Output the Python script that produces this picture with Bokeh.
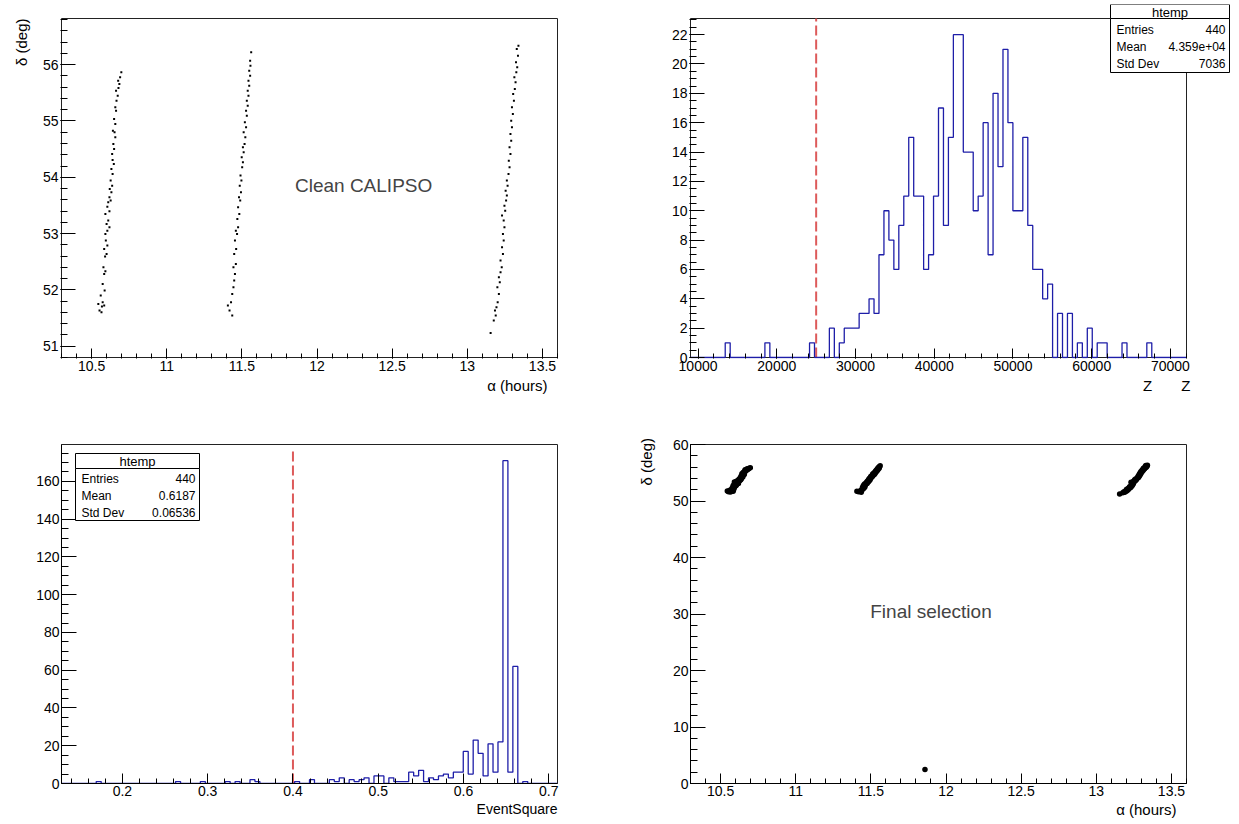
import numpy as np
from bokeh.plotting import figure
from bokeh.layouts import column, row
from bokeh.models import Range1d, Label, BoxAnnotation, FixedTicker, CustomJSTickFormatter, Title
from bokeh.embed import file_html
from bokeh.resources import INLINE

FONT = "Liberation Sans"

# ---------------- data (alpha in hours, delta in degrees) ----------------
ra_streak1 = [10.553, 10.566, 10.584, 10.574, 10.545, 10.569, 10.561, 10.587, 10.574, 10.584,
              10.592, 10.579, 10.590, 10.600, 10.584, 10.605, 10.595, 10.592, 10.605, 10.619,
              10.600, 10.611, 10.592, 10.619, 10.605, 10.611, 10.627, 10.619, 10.632, 10.621,
              10.637, 10.627, 10.640, 10.632, 10.648, 10.640, 10.637, 10.650, 10.645, 10.658,
              10.653, 10.642, 10.658, 10.650, 10.663, 10.658, 10.666, 10.674, 10.663, 10.679,
              10.685, 10.677, 10.690, 10.698]
dec_streak1 = [51.633, 51.604, 51.722, 51.781, 51.751, 51.704, 51.899, 51.988, 52.107, 52.284,
               52.331, 52.402, 52.592, 52.639, 52.728, 52.787, 52.876, 52.994, 53.053, 53.112,
               53.172, 53.231, 53.349, 53.396, 53.479, 53.556, 53.586, 53.645, 53.734, 53.793,
               53.852, 53.941, 54.059, 54.148, 54.237, 54.308, 54.414, 54.503, 54.592, 54.710,
               54.799, 54.828, 54.947, 55.036, 55.183, 55.243, 55.361, 55.450, 55.538, 55.586,
               55.657, 55.716, 55.775, 55.864]
ra_streak2 = [11.436, 11.418, 11.407, 11.428, 11.436, 11.444, 11.449, 11.454, 11.444, 11.460,
              11.449, 11.462, 11.454, 11.468, 11.460, 11.475, 11.470, 11.483, 11.475, 11.489,
              11.481, 11.494, 11.486, 11.497, 11.491, 11.502, 11.507, 11.499, 11.512, 11.507,
              11.518, 11.523, 11.512, 11.528, 11.520, 11.533, 11.528, 11.539, 11.533, 11.544,
              11.539, 11.549, 11.544, 11.555, 11.549, 11.557, 11.555, 11.562]
dec_streak2 = [51.544, 51.633, 51.722, 51.781, 51.929, 52.047, 52.166, 52.284, 52.402, 52.462,
               52.639, 52.728, 52.876, 52.994, 53.053, 53.112, 53.260, 53.349, 53.467, 53.586,
               53.645, 53.734, 53.852, 53.941, 54.030, 54.178, 54.266, 54.355, 54.444, 54.533,
               54.592, 54.710, 54.799, 54.888, 54.976, 55.095, 55.183, 55.272, 55.361, 55.450,
               55.538, 55.627, 55.716, 55.805, 55.893, 55.982, 56.071, 56.219]
ra_streak3 = [13.155, 13.176, 13.189, 13.184, 13.194, 13.202, 13.210, 13.200, 13.216, 13.210,
              13.221, 13.229, 13.221, 13.237, 13.231, 13.242, 13.237, 13.247, 13.242, 13.231,
              13.252, 13.247, 13.258, 13.263, 13.255, 13.268, 13.263, 13.274, 13.281, 13.276,
              13.287, 13.281, 13.292, 13.287, 13.297, 13.292, 13.303, 13.297, 13.310, 13.305,
              13.316, 13.321, 13.313, 13.326, 13.332, 13.324, 13.337, 13.329, 13.340]
dec_streak3 = [51.237, 51.456, 51.544, 51.633, 51.692, 51.781, 51.929, 52.047, 52.136, 52.225,
               52.314, 52.402, 52.521, 52.639, 52.757, 52.876, 52.994, 53.112, 53.231, 53.320,
               53.408, 53.497, 53.586, 53.675, 53.763, 53.852, 53.941, 54.059, 54.178, 54.296,
               54.414, 54.533, 54.651, 54.769, 54.888, 55.006, 55.124, 55.243, 55.361, 55.479,
               55.568, 55.686, 55.775, 55.864, 55.953, 56.041, 56.160, 56.278, 56.337]
outlier_ra = [11.86]
outlier_dec = [2.5]

# histogram of Z (100 bins)
z_bin_low = 9040.0
z_bin_width = 630.0
z_counts = [0, 0, 0, 0, 0, 0, 0, 1, 0, 0,
            0, 0, 0, 0, 0, 1, 0, 0, 0, 0,
            0, 0, 0, 0, 1, 0, 0, 0, 2, 0,
            1, 2, 2, 2, 3, 3, 4, 3, 7, 10,
            8, 6, 9, 11, 15, 11, 11, 6, 7, 11,
            17, 9, 15, 22, 22, 14, 14, 10, 11, 16,
            7, 18, 13, 21, 16, 10, 10, 15, 9, 6,
            6, 4, 5, 0, 3, 0, 3, 0, 1, 0,
            2, 0, 1, 1, 0, 0, 0, 1, 0, 0,
            0, 0, 1, 0, 0, 0, 0, 0, 0, 0]
z_cut = 25000.0
z_ymax = 23.1

# histogram of EventSquare (100 bins)
es_bin_low = 0.1286
es_bin_width = 0.005816
es_counts = [0, 0, 0, 0, 0, 0, 0, 1, 0, 0,
             0, 0, 0, 0, 0, 0, 0, 0, 0, 0,
             0, 0, 0, 1, 0, 0, 0, 0, 1, 0,
             0, 0, 0, 1, 0, 1, 0, 0, 2, 1,
             0, 0, 0, 0, 0, 0, 0, 1, 0, 0,
             2, 0, 0, 0, 2, 1, 3, 0, 2, 1,
             2, 3, 0, 4, 4, 0, 3, 1, 1, 1,
             6, 4, 7, 1, 3, 2, 4, 5, 3, 6,
             6, 17, 5, 23, 16, 4, 21, 6, 22, 171,
             6, 62, 0, 1, 0, 0, 0, 0, 0, 0]
es_cut = 0.4
es_ymax = 179.55

stats_labels = ["Entries", "Mean", "Std Dev"]
stats_z = ["440", "4.359e+04", "7036"]
stats_es = ["440", "0.6187", "0.06536"]

# ---------------- helpers ----------------
fmt = CustomJSTickFormatter(code="return String(Number(tick.toFixed(6)));")
HIST_COLOR = "#1e1ea8"
RED = "#dd5a5a"
FRAME = "#222222"


def make_fig(xr, yr, width, height, bl, br, bt, bb, xmaj, xmin, ymaj, ymin):
    p = figure(width=width, height=height, x_range=Range1d(*xr), y_range=Range1d(*yr),
               output_backend="svg", toolbar_location=None,
               min_border_left=bl, min_border_right=br, min_border_top=bt, min_border_bottom=bb)
    p.xgrid.visible = False
    p.ygrid.visible = False
    p.outline_line_color = FRAME
    p.outline_line_width = 1
    p.background_fill_color = "white"
    p.border_fill_color = "white"
    p.xaxis.ticker = FixedTicker(ticks=xmaj, minor_ticks=xmin)
    p.yaxis.ticker = FixedTicker(ticks=ymaj, minor_ticks=ymin)
    for ax in (p.xaxis[0], p.yaxis[0]):
        ax.formatter = fmt
        ax.major_tick_out = 0
        ax.minor_tick_out = 0
        ax.major_label_text_font = FONT
        ax.major_label_text_font_size = "14px"
        ax.major_label_text_color = "black"
        ax.axis_line_color = "black"
        ax.major_tick_line_color = "black"
        ax.minor_tick_line_color = "black"
        ax.major_label_standoff = 2
    p.xaxis.major_tick_in = 10
    p.xaxis.minor_tick_in = 5
    p.yaxis.major_tick_in = 15
    p.yaxis.minor_tick_in = 7
    return p


def manual_frame(p, x0, x1, y0, y1):
    """Draw the plot box as lines in data space (the Bokeh frame is made a bit larger)."""
    p.outline_line_color = None
    p.xaxis.axis_line_color = None
    p.yaxis.axis_line_color = None
    for xs_, ys_ in (([x0, x0], [y0, y1]), ([x1, x1], [y0, y1]),
                     ([x0, x1], [y0, y0]), ([x0, x1], [y1, y1])):
        p.line(xs_, ys_, line_color=FRAME, line_width=1)


def add_title(p, text, side, size, offset=0, standoff=0, align="right"):
    p.add_layout(Title(text=text, align=align, offset=offset, standoff=standoff,
                       text_font=FONT, text_font_size=size, text_font_style="normal",
                       text_color="black"), side)


def txt(p, frame, X, Y, s, size, align="left"):
    fl, fb = frame
    p.add_layout(Label(x=X - fl, y=fb - Y, x_units="screen", y_units="screen", text=s,
                       text_font=FONT, text_font_size=size, text_align=align,
                       text_baseline="middle", text_color="black"))


def box(p, frame, X0, X1, Y0, Y1):
    fl, fb = frame
    p.add_layout(BoxAnnotation(left=X0 - fl, right=X1 - fl, top=fb - Y0, bottom=fb - Y1,
                               left_units="screen", right_units="screen",
                               top_units="screen", bottom_units="screen",
                               fill_color="white", fill_alpha=1.0,
                               line_color="black", line_width=1, line_alpha=1.0))


def stats(p, frame, X0, X1, Yt, Ys, Yb, rows_y, vals):
    box(p, frame, X0, X1, Yt, Ys)
    box(p, frame, X0, X1, Ys, Yb)
    txt(p, frame, (X0 + X1) / 2, (Yt + Ys) / 2 + 0.5, "htemp", "13px", align="center")
    for lab, v, y in zip(stats_labels, vals, rows_y):
        txt(p, frame, X0 + 6, y, lab, "12px")
        txt(p, frame, X1 - 4, y, v, "12px", align="right")


def step_xy(lo, bw, counts):
    xs, ys = [], []
    for i, c in enumerate(counts):
        xs += [lo + i * bw, lo + (i + 1) * bw]
        ys += [c, c]
    return xs, ys


ra_all = ra_streak1 + ra_streak2 + ra_streak3
dec_all = dec_streak1 + dec_streak2 + dec_streak3

ra_lo, ra_hi = 10.3, 13.6
ra_major = [10.5, 11, 11.5, 12, 12.5, 13, 13.5]
ra_minor = list(np.round(np.arange(10.3, 13.61, 0.1), 3))

# ---------------- top-left: Clean CALIPSO ----------------
dec_lo, dec_hi = 50.8, 56.82
dx1 = (ra_hi - ra_lo) / 496.0
dy1 = (dec_hi - dec_lo) / 339.0
p1 = make_fig((ra_lo - dx1, ra_hi + dx1), (dec_lo - dy1, dec_hi + 14 * dy1), 620, 412, 60, 62, 4, 54,
              ra_major, ra_minor, [51, 52, 53, 54, 55, 56],
              list(np.round(np.arange(50.8, 56.85, 0.2), 3)))
manual_frame(p1, ra_lo, ra_hi, dec_lo, dec_hi)
p1.scatter(ra_all, dec_all, marker="square", size=2.0, color="black", line_color=None)
p1.add_layout(Label(x=12.31, y=53.85, text="Clean CALIPSO", text_font=FONT,
                    text_font_size="19px", text_align="center", text_baseline="middle"))
add_title(p1, "\u03b1 (hours)", "below", "15px", offset=11, standoff=2)
add_title(p1, "\u03b4 (deg)", "left", "15px", offset=14, standoff=20)

# ---------------- top-right: Z histogram (frame widened to hold the stats box) ----------------
zx, zy = step_xy(z_bin_low, z_bin_width, z_counts)
z_hi = z_bin_low + len(z_counts) * z_bin_width
upx = (z_hi - z_bin_low) / 496.0          # data units per pixel (x)
vpx = z_ymax / 339.0                      # data units per pixel (y)
p2 = make_fig((z_bin_low - upx, z_hi + 44 * upx), (-vpx, z_ymax + 14 * vpx),
              618, 412, 69, 8, 4, 54,
              list(range(10000, 70001, 10000)), list(range(10000, 72001, 2000)),
              list(range(0, 23, 2)), list(np.arange(0, 23.1, 0.5)))
manual_frame(p2, z_bin_low, z_hi, 0, z_ymax)
p2.line([z_cut, z_cut], [0, z_ymax], line_color=RED, line_width=2, line_dash="10 4")
p2.line(zx, zy, line_color=HIST_COLOR, line_width=1.3)
f2 = (689, 358)
stats(p2, f2, 1110, 1229, 4, 18, 72, [29, 46, 63], stats_z)
add_title(p2, "Z\u00a0\u00a0\u00a0\u00a0\u00a0\u00a0\u00a0Z", "below", "15px", offset=40, standoff=2)

# ---------------- bottom-left: EventSquare histogram ----------------
ex, ey = step_xy(es_bin_low, es_bin_width, es_counts)
es_hi = es_bin_low + len(es_counts) * es_bin_width
p3 = make_fig((es_bin_low, es_hi), (0, es_ymax), 620, 411, 61, 63, 32, 40,
              [0.2, 0.3, 0.4, 0.5, 0.6, 0.7], list(np.round(np.arange(0.14, 0.711, 0.02), 3)),
              list(range(0, 161, 20)), list(range(0, 180, 5)))
p3.line([es_cut, es_cut], [0, 177], line_color=RED, line_width=2, line_dash="10 4")
p3.line(ex, ey, line_color=HIST_COLOR, line_width=1.3)
f3 = (61, 783)
stats(p3, f3, 75, 199, 453, 468, 520, [478, 495, 512], stats_es)
add_title(p3, "EventSquare", "below", "14px", offset=0, standoff=0)

# ---------------- bottom-right: Final selection ----------------
p4 = make_fig((ra_lo, ra_hi), (0, 60), 618, 411, 70, 52, 32, 40,
              ra_major, ra_minor, [0, 10, 20, 30, 40, 50, 60], list(range(0, 61, 2)))
p4.scatter(ra_all + outlier_ra, dec_all + outlier_dec, marker="circle", size=5.5,
           color="black", line_color=None)
p4.add_layout(Label(x=11.9, y=30.4, text="Final selection", text_font=FONT,
                    text_font_size="19px", text_align="center", text_baseline="middle"))
add_title(p4, "\u03b1 (hours)", "below", "15px", offset=10, standoff=0)
add_title(p4, "\u03b4 (deg)", "left", "15px", offset=298, standoff=30, align="left")

layout = column(row(p1, p2, spacing=0), row(p3, p4, spacing=0), spacing=0)
open("out.html", "w").write(file_html(layout, INLINE))
